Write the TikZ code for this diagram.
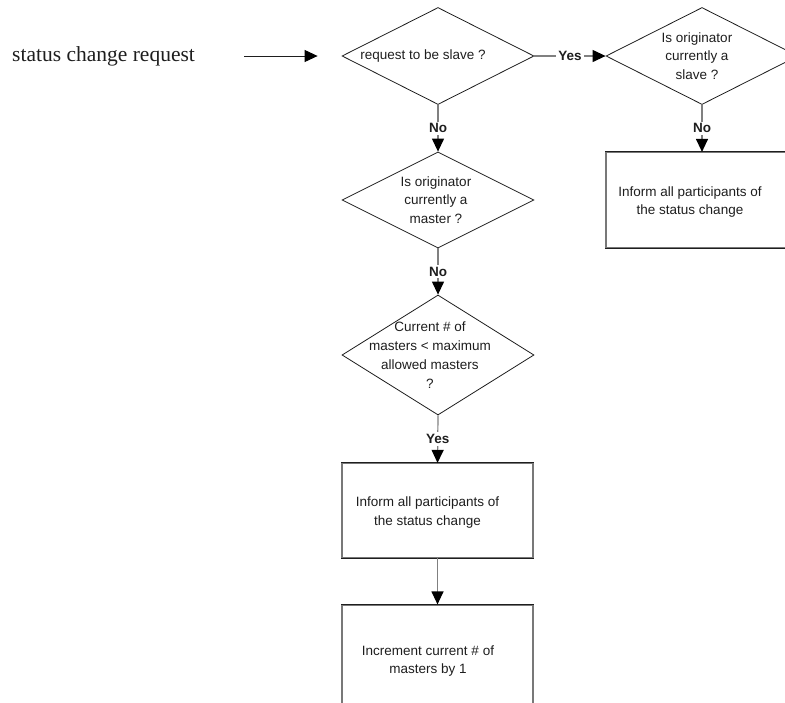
\documentclass[tikz,border=0pt]{standalone}
\usepackage{fontspec}
\setmainfont{Liberation Sans}
\newfontfamily\titleserif{Liberation Serif}
\usetikzlibrary{shapes.geometric,arrows.meta}
\definecolor{linegray}{RGB}{128,128,128}
\definecolor{boxgray}{RGB}{120,120,120}
\definecolor{inkdark}{RGB}{30,30,30}
\begin{document}
\begin{tikzpicture}[x=1pt,y=-1pt,
  decision/.style={diamond, draw=inkdark, line width=0.8pt, minimum width=192pt, minimum height=97pt, inner sep=0pt},
  process/.style={rectangle, draw=boxgray, line width=1.2pt, minimum width=191pt, minimum height=94pt, inner sep=0pt},
  lbl/.style={font=\fontsize{13.5}{18.8}\selectfont, align=center, text=inkdark, inner sep=0pt},
  tag/.style={font=\bfseries\fontsize{13.5}{16}\selectfont, text=inkdark, fill=white, inner sep=2pt},
  flow/.style={draw=linegray, line width=1.2pt, -{Triangle[length=13pt,width=12pt,color=black]}},
  edge/.style={draw=inkdark, line width=1pt},
  ]
\useasboundingbox (0,0) rectangle (785,702);
\clip (0,0) rectangle (785,702);

% decisions
\node[decision] (d1) at (438,56) {};
\node[decision] (d2) at (702,56) {};
\node[decision, minimum height=96pt] (d3) at (438,200) {};
\node[decision, minimum height=120pt] (d4) at (438,355) {};

% processes
\node[process, minimum width=192pt, minimum height=95pt] (br) at (702,200) {};
\node[process] (b1) at (437.5,510.5) {};
\node[process, minimum height=120pt] (b2) at (437.5,665) {};
\foreach \b in {br,b1,b2}{
  \draw[edge] (\b.north west) -- (\b.north east);
  \draw[edge] (\b.south west) -- (\b.south east);
}

% texts
\node[anchor=west, font=\titleserif\fontsize{21.5}{24}\selectfont, text=inkdark, inner sep=0pt] (src) at (12,56) {status change request};
\node[lbl] (d1t) at ([xshift=-15pt]d1.center) {request to be slave ?};
\node[lbl] (d2t) at ([xshift=-5pt]d2.center) {Is originator\\currently a\\slave ?};
\node[lbl] (d3t) at ([xshift=-2pt]d3.center) {Is originator\\currently a\\master ?};
\node[lbl] (d4t) at ([xshift=-8pt]d4.center) {Current \# of\\masters < maximum\\allowed masters\\?};
\node[lbl] (brt) at ([shift={(-12pt,-2pt)}]br.center) {Inform all participants of\\the status change};
\node[lbl] (b1t) at ([shift={(-10pt,-2pt)}]b1.center) {Inform all participants of\\the status change};
\node[lbl] (b2t) at (428,661) {Increment current \# of\\masters by 1};

% connectors
\coordinate (inS) at ([xshift=49pt]src.east);
\coordinate (inE) at ([xshift=-24pt]d1.west);
\draw[flow, draw=inkdark, line width=1pt] (inS) -- (inE);
\draw[flow] (d1.east) -- node[tag] (y1) {Yes} (d2.west);
\draw[flow] (d1.south) -- node[tag] (n1) {No} (d3.north);
\draw[flow] (d2.south) -- node[tag] (n2) {No} (br.north);
\draw[flow] (d3.south) -- node[tag] (n3) {No} (d4.north);
\draw[flow] (d4.south) -- node[tag] (y2) {Yes} (b1.north);
\draw[flow] (b1.south) -- (b2.north);
\end{tikzpicture}
\end{document}
